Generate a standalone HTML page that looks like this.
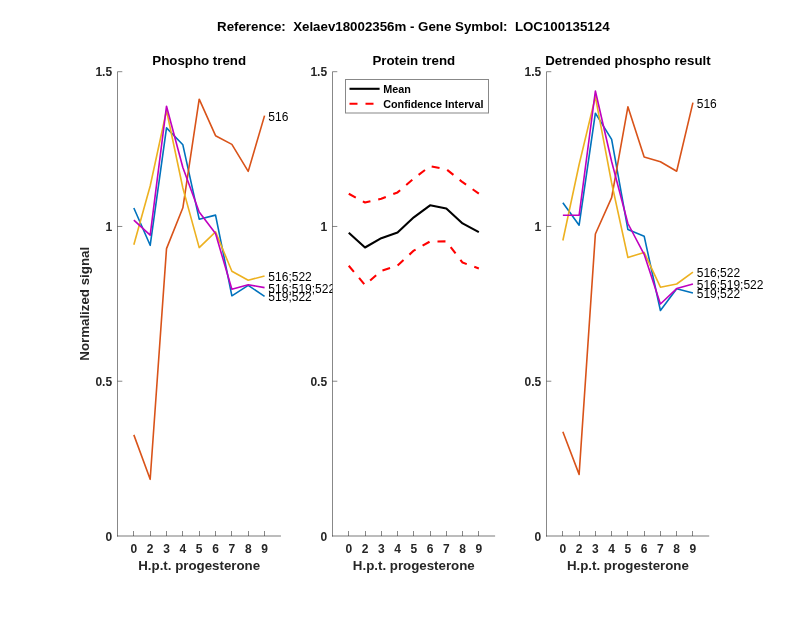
<!DOCTYPE html>
<html lang="en"><head><meta charset="utf-8"><title>Reference: Xelaev18002356m - Gene Symbol: LOC100135124</title>
<style>html,body{margin:0;padding:0;background:#fff}body{width:800px;height:618px;overflow:hidden}svg{display:block}text{font-family:"Liberation Sans",Arial,Helvetica,sans-serif}.b{font-weight:bold}.t{font-size:12px;fill:#262626;font-weight:bold}.l{font-size:13.3px;fill:#262626;font-weight:bold}.h{font-size:13.3px;fill:#000;font-weight:bold}.s{font-size:12px;fill:#000}.g{font-size:10.8px;fill:#000;font-weight:bold}</style></head><body>
<svg width="800" height="618" viewBox="0 0 800 618">
<rect width="800" height="618" fill="#fff"/>
<text class="h" x="413.3" y="30.8" text-anchor="middle" xml:space="preserve">Reference:  Xelaev18002356m - Gene Symbol:  LOC100135124</text>
<g>
<rect x="117.50" y="71.70" width="163.90" height="464.30" fill="#fff"/>
<polyline points="133.84,208.00 150.18,245.30 166.52,127.90 182.86,144.80 199.20,219.20 215.54,215.10 231.88,295.80 248.22,285.40 264.56,296.40" fill="none" stroke="#0072BD" stroke-width="1.6" stroke-linejoin="round" />
<polyline points="133.84,434.90 150.18,479.30 166.52,248.60 182.86,207.80 199.20,99.20 215.54,135.70 231.88,144.40 248.22,171.40 264.56,115.60" fill="none" stroke="#D95319" stroke-width="1.6" stroke-linejoin="round" />
<polyline points="133.84,244.70 150.18,186.00 166.52,110.50 182.86,188.00 199.20,247.60 215.54,231.90 231.88,271.20 248.22,280.20 264.56,276.00" fill="none" stroke="#EDB120" stroke-width="1.6" stroke-linejoin="round" />
<polyline points="133.84,220.10 150.18,235.20 166.52,106.20 182.86,167.50 199.20,212.00 215.54,233.60 231.88,289.30 248.22,284.80 264.56,287.60" fill="none" stroke="#BF00BF" stroke-width="1.6" stroke-linejoin="round" />
<text class="s" x="268.36" y="301.30">519;522</text>
<text class="s" x="268.36" y="120.50">516</text>
<text class="s" x="268.36" y="280.90">516;522</text>
<text class="s" x="268.36" y="292.50">516;519;522</text>
<path d="M117.5 71.70V536.50" stroke="#262626" stroke-opacity="0.55" stroke-width="1" fill="none"/>
<path d="M117.0 536.0H280.90" stroke="#262626" stroke-opacity="0.62" stroke-width="1.2" fill="none"/>
<path d="M133.5 536.0v-5M150.5 536.0v-5M166.5 536.0v-5M182.5 536.0v-5M199.5 536.0v-5M215.5 536.0v-5M231.5 536.0v-5M248.5 536.0v-5M264.5 536.0v-5" stroke="#262626" stroke-opacity="0.55" stroke-width="1" fill="none"/>
<path d="M117.5 381.23h4.8M117.5 226.47h4.8M117.5 71.70h4.8" stroke="#262626" stroke-opacity="0.55" stroke-width="1" fill="none"/>
<text class="t" x="133.84" y="553" text-anchor="middle">0</text>
<text class="t" x="150.18" y="553" text-anchor="middle">2</text>
<text class="t" x="166.52" y="553" text-anchor="middle">3</text>
<text class="t" x="182.86" y="553" text-anchor="middle">4</text>
<text class="t" x="199.20" y="553" text-anchor="middle">5</text>
<text class="t" x="215.54" y="553" text-anchor="middle">6</text>
<text class="t" x="231.88" y="553" text-anchor="middle">7</text>
<text class="t" x="248.22" y="553" text-anchor="middle">8</text>
<text class="t" x="264.56" y="553" text-anchor="middle">9</text>
<text class="t" x="112.10" y="540.60" text-anchor="end">0</text>
<text class="t" x="112.10" y="385.83" text-anchor="end">0.5</text>
<text class="t" x="112.10" y="231.07" text-anchor="end">1</text>
<text class="t" x="112.10" y="76.30" text-anchor="end">1.5</text>
<text class="l" x="199.20" y="569.8" text-anchor="middle">H.p.t. progesterone</text>
<text class="h" x="199.20" y="65" text-anchor="middle">Phospho trend</text>
<text class="l" transform="translate(88.5 303.8) rotate(-90)" text-anchor="middle">Normalized signal</text>
</g>
<g>
<rect x="332.50" y="71.70" width="163.10" height="464.30" fill="#fff"/>
<polyline points="348.76,232.80 365.02,247.50 381.28,238.20 397.54,232.50 413.80,217.30 430.06,205.30 446.32,208.50 462.58,223.40 478.84,232.20" fill="none" stroke="#000" stroke-width="2.1" stroke-linejoin="round" />
<polyline points="348.76,193.80 365.02,202.50 381.28,198.70 397.54,192.40 413.80,178.50 430.06,166.20 446.32,169.20 462.58,182.20 478.84,193.60" fill="none" stroke="#f00" stroke-width="2.1" stroke-linejoin="round" stroke-dasharray="8 8"/>
<polyline points="348.76,265.70 365.02,285.00 381.28,270.90 397.54,265.50 413.80,250.60 430.06,241.50 446.32,241.40 462.58,262.60 478.84,268.50" fill="none" stroke="#f00" stroke-width="2.1" stroke-linejoin="round" stroke-dasharray="8 8"/>
<path d="M332.5 71.70V536.50" stroke="#262626" stroke-opacity="0.55" stroke-width="1" fill="none"/>
<path d="M332.0 536.0H495.10" stroke="#262626" stroke-opacity="0.62" stroke-width="1.2" fill="none"/>
<path d="M348.5 536.0v-5M365.5 536.0v-5M381.5 536.0v-5M397.5 536.0v-5M413.5 536.0v-5M430.5 536.0v-5M446.5 536.0v-5M462.5 536.0v-5M478.5 536.0v-5" stroke="#262626" stroke-opacity="0.55" stroke-width="1" fill="none"/>
<path d="M332.5 381.23h4.8M332.5 226.47h4.8M332.5 71.70h4.8" stroke="#262626" stroke-opacity="0.55" stroke-width="1" fill="none"/>
<text class="t" x="348.76" y="553" text-anchor="middle">0</text>
<text class="t" x="365.02" y="553" text-anchor="middle">2</text>
<text class="t" x="381.28" y="553" text-anchor="middle">3</text>
<text class="t" x="397.54" y="553" text-anchor="middle">4</text>
<text class="t" x="413.80" y="553" text-anchor="middle">5</text>
<text class="t" x="430.06" y="553" text-anchor="middle">6</text>
<text class="t" x="446.32" y="553" text-anchor="middle">7</text>
<text class="t" x="462.58" y="553" text-anchor="middle">8</text>
<text class="t" x="478.84" y="553" text-anchor="middle">9</text>
<text class="t" x="327.10" y="540.60" text-anchor="end">0</text>
<text class="t" x="327.10" y="385.83" text-anchor="end">0.5</text>
<text class="t" x="327.10" y="231.07" text-anchor="end">1</text>
<text class="t" x="327.10" y="76.30" text-anchor="end">1.5</text>
<text class="l" x="413.80" y="569.8" text-anchor="middle">H.p.t. progesterone</text>
<text class="h" x="413.80" y="65" text-anchor="middle">Protein trend</text>
<rect x="345.5" y="79.5" width="143" height="33.5" fill="#fff" stroke="#262626" stroke-opacity="0.55" stroke-width="1"/>
<path d="M349.5 88.8H379.6" stroke="#000" stroke-width="2.1" fill="none"/>
<path d="M349.5 103.8H379.6" stroke="#f00" stroke-width="2.1" stroke-dasharray="8 8" fill="none"/>
<text class="g" x="383.2" y="92.7">Mean</text>
<text class="g" x="383.2" y="107.7">Confidence Interval</text>
</g>
<g>
<rect x="546.60" y="71.70" width="163.10" height="464.30" fill="#fff"/>
<polyline points="562.86,202.80 579.12,225.20 595.38,113.20 611.64,139.30 627.90,229.60 644.16,236.20 660.42,310.50 676.68,288.80 692.94,293.00" fill="none" stroke="#0072BD" stroke-width="1.6" stroke-linejoin="round" />
<polyline points="562.86,431.80 579.12,474.40 595.38,234.00 611.64,197.60 627.90,106.80 644.16,156.90 660.42,161.70 676.68,171.20 692.94,102.60" fill="none" stroke="#D95319" stroke-width="1.6" stroke-linejoin="round" />
<polyline points="562.86,240.50 579.12,164.50 595.38,96.80 611.64,183.00 627.90,257.50 644.16,252.40 660.42,287.20 676.68,284.00 692.94,272.20" fill="none" stroke="#EDB120" stroke-width="1.6" stroke-linejoin="round" />
<polyline points="562.86,215.30 579.12,215.30 595.38,91.00 611.64,161.50 627.90,223.50 644.16,254.30 660.42,304.00 676.68,288.60 692.94,284.00" fill="none" stroke="#BF00BF" stroke-width="1.6" stroke-linejoin="round" />
<text class="s" x="696.74" y="297.90">519;522</text>
<text class="s" x="696.74" y="107.50">516</text>
<text class="s" x="696.74" y="277.10">516;522</text>
<text class="s" x="696.74" y="288.90">516;519;522</text>
<path d="M546.5 71.70V536.50" stroke="#262626" stroke-opacity="0.55" stroke-width="1" fill="none"/>
<path d="M546.0 536.0H709.20" stroke="#262626" stroke-opacity="0.62" stroke-width="1.2" fill="none"/>
<path d="M562.5 536.0v-5M579.5 536.0v-5M595.5 536.0v-5M611.5 536.0v-5M627.5 536.0v-5M644.5 536.0v-5M660.5 536.0v-5M676.5 536.0v-5M692.5 536.0v-5" stroke="#262626" stroke-opacity="0.55" stroke-width="1" fill="none"/>
<path d="M546.5 381.23h4.8M546.5 226.47h4.8M546.5 71.70h4.8" stroke="#262626" stroke-opacity="0.55" stroke-width="1" fill="none"/>
<text class="t" x="562.86" y="553" text-anchor="middle">0</text>
<text class="t" x="579.12" y="553" text-anchor="middle">2</text>
<text class="t" x="595.38" y="553" text-anchor="middle">3</text>
<text class="t" x="611.64" y="553" text-anchor="middle">4</text>
<text class="t" x="627.90" y="553" text-anchor="middle">5</text>
<text class="t" x="644.16" y="553" text-anchor="middle">6</text>
<text class="t" x="660.42" y="553" text-anchor="middle">7</text>
<text class="t" x="676.68" y="553" text-anchor="middle">8</text>
<text class="t" x="692.94" y="553" text-anchor="middle">9</text>
<text class="t" x="541.20" y="540.60" text-anchor="end">0</text>
<text class="t" x="541.20" y="385.83" text-anchor="end">0.5</text>
<text class="t" x="541.20" y="231.07" text-anchor="end">1</text>
<text class="t" x="541.20" y="76.30" text-anchor="end">1.5</text>
<text class="l" x="627.90" y="569.8" text-anchor="middle">H.p.t. progesterone</text>
<text class="h" x="627.90" y="65" text-anchor="middle">Detrended phospho result</text>
</g>
</svg></body></html>
